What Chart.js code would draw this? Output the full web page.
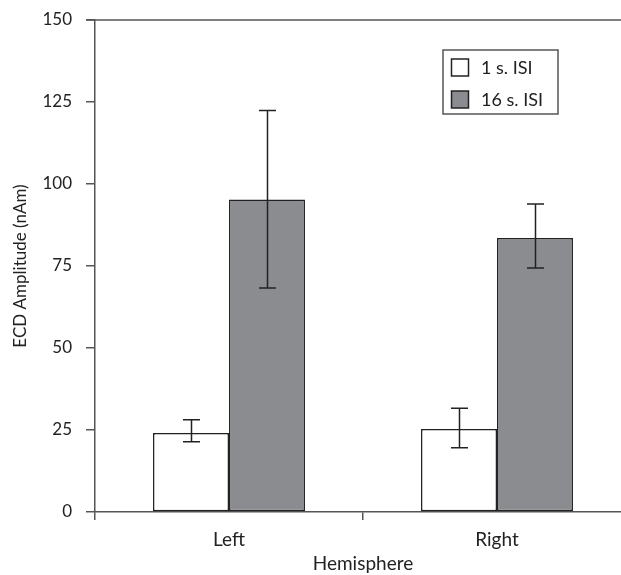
<!DOCTYPE html>
<html>
<head>
<meta charset="utf-8">
<script src="https://cdn.jsdelivr.net/npm/chart.js@4/dist/chart.umd.min.js"></script>
<style>
html,body{margin:0;padding:0;background:#fff;overflow:hidden;}
#wrap{position:relative;width:640px;height:575px;}
</style>
</head>
<body>
<div id="wrap"><canvas id="c" width="640" height="575"></canvas></div>
<script>
const categories = ["Left", "Right"];
const seriesNames = ["1 s. ISI", "16 s. ISI"];
const shortISI = [24.1, 25.3];
const shortISIHigh = [28.1, 31.6];
const shortISILow = [21.4, 19.6];
const longISI = [95.3, 83.5];
const longISIHigh = [122.4, 93.9];
const longISILow = [68.3, 74.4];
const yTicks = [0, 25, 50, 75, 100, 125, 150];

const FONT = "Lato, 'Open Sans', sans-serif";
const AXIS = "#555";
const INK = "#222";

const errorBars = {
  id: "errorBars",
  afterDatasetsDraw(chart) {
    const ctx = chart.ctx;
    const y = chart.scales.y;
    const hi = [shortISIHigh, longISIHigh];
    const lo = [shortISILow, longISILow];
    ctx.save();
    ctx.strokeStyle = INK;
    ctx.lineWidth = 1.5;
    chart.data.datasets.forEach((ds, di) => {
      const meta = chart.getDatasetMeta(di);
      meta.data.forEach((bar, i) => {
        const x = Math.round(bar.x) + 0.5;
        const yh = y.getPixelForValue(hi[di][i]);
        const yl = y.getPixelForValue(lo[di][i]);
        ctx.beginPath();
        ctx.moveTo(x, yh); ctx.lineTo(x, yl);
        ctx.moveTo(x - 8.5, yh); ctx.lineTo(x + 8.5, yh);
        ctx.moveTo(x - 8.5, yl); ctx.lineTo(x + 8.5, yl);
        ctx.stroke();
      });
    });
    ctx.restore();
  }
};

const frame = {
  id: "frame",
  afterDraw(chart) {
    const ctx = chart.ctx;
    const a = chart.chartArea;
    ctx.save();
    ctx.strokeStyle = AXIS;
    ctx.lineWidth = 1.5;
    ctx.beginPath();
    ctx.moveTo(a.left - 9, a.top);
    ctx.lineTo(chart.width, a.top);
    ctx.stroke();
    // legend
    const lx = 443, ly = 50, lw = 115, lh = 64;
    ctx.fillStyle = "#fff";
    ctx.fillRect(lx, ly, lw, lh);
    ctx.strokeStyle = AXIS;
    ctx.lineWidth = 1.5;
    ctx.strokeRect(lx, ly, lw, lh);
    ctx.font = "18px " + FONT;
    ctx.textBaseline = "middle";
    chart.data.datasets.forEach((ds, i) => {
      const sy = 59 + i * 32;
      ctx.fillStyle = ds.backgroundColor;
      ctx.fillRect(451.5, sy, 17, 17);
      ctx.strokeStyle = INK;
      ctx.lineWidth = 1.5;
      ctx.strokeRect(451.5, sy, 17, 17);
      ctx.fillStyle = INK;
      ctx.fillText(ds.label, 481, sy + 9);
    });
    ctx.restore();
  }
};

new Chart(document.getElementById("c"), {
  type: "bar",
  data: {
    labels: categories,
    datasets: [
      { label: seriesNames[0], data: shortISI, backgroundColor: "#ffffff", borderColor: INK, borderWidth: 1.5, borderSkipped: false },
      { label: seriesNames[1], data: longISI, backgroundColor: "#8b8c90", borderColor: INK, borderWidth: 1.5, borderSkipped: false }
    ]
  },
  options: {
    responsive: false,
    animation: false,
    events: [],
    layout: { padding: { top: 20, right: 9, left: 10, bottom: 0 } },
    datasets: { bar: { barPercentage: 1.0, categoryPercentage: 0.567 } },
    plugins: { legend: { display: false }, tooltip: { enabled: false } },
    scales: {
      x: {
        offset: true,
        grid: { offset: true, drawOnChartArea: false, tickLength: 8, color: AXIS, lineWidth: 1.5 },
        border: { color: AXIS, width: 1.5 },
        ticks: { color: INK, font: { family: FONT, size: 19 }, padding: 8 },
        title: { display: true, text: "Hemisphere", color: INK, font: { family: FONT, size: 19 }, padding: { top: 3, bottom: 0 } },
        afterFit(s) { s.height = 63; }
      },
      y: {
        min: 0, max: 150,
        afterBuildTicks(s) { s.ticks = yTicks.map(v => ({ value: v })); },
        grid: { drawOnChartArea: false, tickLength: 9, color: AXIS, lineWidth: 1.5 },
        border: { color: AXIS, width: 1.5 },
        ticks: { color: INK, font: { family: FONT, size: 17 }, padding: 14 },
        title: { display: true, text: "ECD Amplitude (nAm)", color: INK, font: { family: FONT, size: 17 }, padding: { top: 0, bottom: 6 } },
        afterFit(s) { s.width = 85; s.paddingTop = 10; s.paddingBottom = 10; }
      }
    }
  },
  plugins: [errorBars, frame]
});
</script>
</body>
</html>
